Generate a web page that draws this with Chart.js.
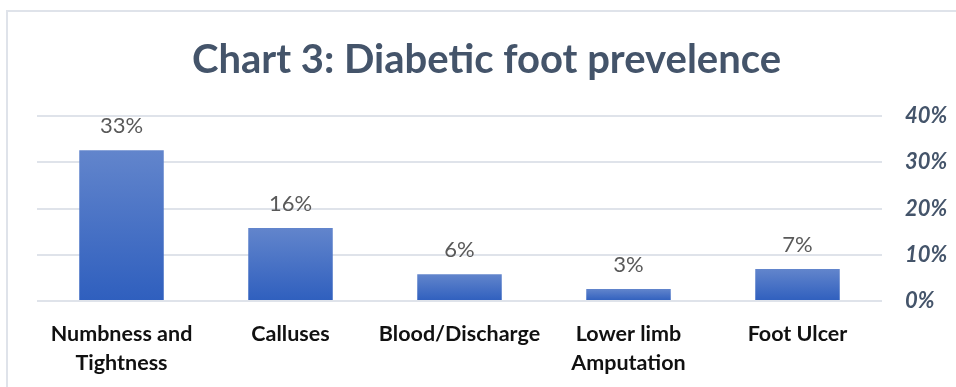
<!DOCTYPE html>
<html>
<head>
<meta charset="utf-8">
<script src="https://cdn.jsdelivr.net/npm/chart.js@4.4.1/dist/chart.umd.min.js"></script>
<style>
  html, body { margin: 0; padding: 0; background: #fff; }
  #wrap { position: relative; width: 956px; height: 387px; }
  #frame {
    position: absolute; left: 6px; top: 10px; right: 0; bottom: 0;
    border-top: 2px solid #dfe3ea; border-left: 2px solid #dfe3ea;
  }
  #chart { position: absolute; left: 0; top: 0; }
</style>
</head>
<body>
<div id="wrap">
  <div id="frame"></div>
  <canvas id="chart" width="956" height="387"></canvas>
</div>
<script>
// Chart data
const categories = [['Numbness and', 'Tightness'], 'Calluses', 'Blood/Discharge', ['Lower limb', 'Amputation'], 'Foot Ulcer'];
const prevalence = [32.6, 15.8, 5.8, 2.6, 6.9];
const yTicks = [0, 10, 20, 30, 40];

const titleColor = '#44546a';

// bar fill: light blue at the top of each bar, darker at the base
function barGradient(ctx) {
  const chart = ctx.chart;
  const y = chart.scales.y;
  if (!chart.chartArea || !y || ctx.dataIndex === undefined) return '#4472c4';
  const top = y.getPixelForValue(ctx.raw);
  const base = y.getPixelForValue(0);
  const g = chart.ctx.createLinearGradient(0, top, 0, base);
  g.addColorStop(0, '#6285cc');
  g.addColorStop(1, '#2f5fbe');
  return g;
}

// value labels over the bars
const valueLabels = {
  id: 'valueLabels',
  afterDatasetsDraw(chart) {
    const ctx = chart.ctx;
    const meta = chart.getDatasetMeta(0);
    ctx.save();
    ctx.font = '22px Lato';
    ctx.fillStyle = '#595959';
    ctx.textAlign = 'center';
    ctx.textBaseline = 'middle';
    meta.data.forEach((bar, i) => {
      ctx.fillText(Math.round(prevalence[i]) + '%', bar.x, bar.y - 24);
    });
    ctx.restore();
  }
};

new Chart(document.getElementById('chart'), {
  type: 'bar',
  data: {
    labels: categories,
    datasets: [{
      data: prevalence,
      backgroundColor: barGradient,
      borderWidth: 0,
      categoryPercentage: 1,
      barPercentage: 0.5
    }]
  },
  options: {
    responsive: false,
    animation: false,
    layout: { padding: { left: 17, right: 0, top: 0, bottom: 0 } },
    plugins: {
      legend: { display: false },
      tooltip: { enabled: false },
      title: {
        display: true,
        text: 'Chart 3: Diabetic foot prevelence',
        color: titleColor,
        font: { family: 'Lato', size: 40, weight: 'bold', lineHeight: 1.2 },
        padding: { top: 36, bottom: 32 }
      }
    },
    scales: {
      x: {
        grid: { display: false },
        border: { display: false },
        afterFit: s => { s.height = 86; },
        ticks: {
          color: '#111',
          padding: 11,
          maxRotation: 0,
          autoSkip: false,
          font: { family: 'Lato', size: 21.5, weight: 'bold', lineHeight: 1.35 }
        }
      },
      y: {
        position: 'right',
        min: 0,
        max: 40,
        afterBuildTicks: s => { s.ticks = yTicks.map(v => ({ value: v })); },
        afterFit: s => { s.width = 74; },
        grid: { color: '#dfe3ea', lineWidth: 2, drawTicks: false },
        border: { display: false },
        ticks: {
          padding: 23,
          color: titleColor,
          font: { family: 'Lato', size: 22, style: 'italic', weight: 'bold' },
          callback: v => v + '%'
        }
      },
      pad: {
        position: 'left',
        display: true,
        grid: { display: false },
        border: { display: false },
        ticks: { display: false },
        afterFit: s => { s.width = 20; }
      }
    }
  },
  plugins: [valueLabels]
});
</script>
</body>
</html>
